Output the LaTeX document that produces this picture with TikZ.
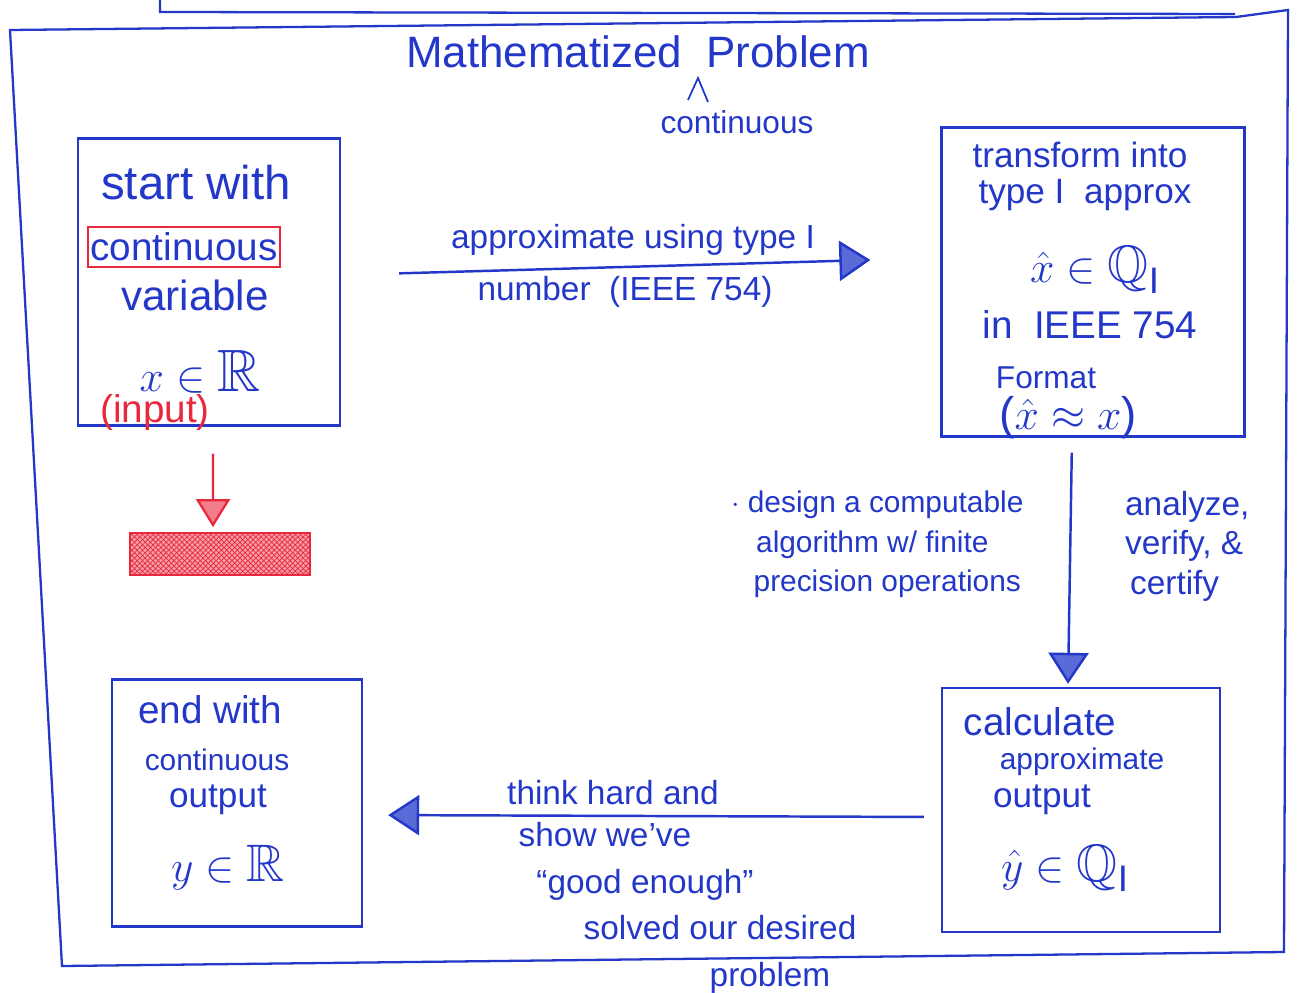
\documentclass[tikz,border=0pt]{standalone}
\usepackage{amssymb}
\usepackage{fontspec}
\setmainfont{Liberation Sans}
\usetikzlibrary{positioning,arrows.meta,patterns}
\definecolor{inkblue}{HTML}{2338C8}
\definecolor{inkred}{HTML}{E8283C}

\begin{document}
\begin{tikzpicture}[
  x=0.02cm, y=-0.02cm,
  line width=1.3pt,
  ink/.style={text=inkblue, inner sep=0pt},
  box/.style={draw=inkblue, line width=1.4pt, inner sep=0pt},
  txt/.style={ink, font=\fontsize{22}{26}\selectfont},
  lbl/.style={ink, font=\fontsize{19}{23}\selectfont},
  note/.style={ink, font=\fontsize{17}{22.5}\selectfont, align=left, anchor=north west},
  sym/.style={ink, font=\fontsize{30}{34}\selectfont},
  flow/.style={draw=inkblue, line width=1.4pt,
               -{Triangle[length=0.62cm, width=0.8cm, fill=inkblue!75]}},
]
  \useasboundingbox (0,0) rectangle (1311,993);

  % ---- frame -------------------------------------------------------------
  \draw[inkblue] (160,0) -- (160,12) -- (1235,14);
  \draw[inkblue] (10,30) -- (1236,17) -- (1288,10) -- (1284,952) -- (62,966) -- cycle;
  \node[ink, font=\fontsize{25}{30}\selectfont] (title) at (638,52) {Mathematized\ \ Problem};
  \draw[inkblue, line width=1pt] (688,100) -- (698,78) -- (708,102);
  \node[ink, font=\fontsize{18}{22}\selectfont] (cont) at (737,122) {continuous};

  % ---- boxes ---------------------------------------------------------------
  \node[box, minimum width=5.24cm, minimum height=5.74cm] (start) at (209,282) {};
  \node[box, minimum width=6.06cm, minimum height=6.18cm] (trans) at (1093,282) {};
  \node[box, minimum width=5.56cm, minimum height=4.88cm] (calc) at (1081,810) {};
  \node[box, minimum width=5cm, minimum height=4.94cm] (end) at (237,803) {};
  \node[draw=inkred, line width=1pt, preaction={fill=inkred!45}, pattern=crosshatch,
        pattern color=inkred, minimum width=3.6cm, minimum height=0.84cm,
        inner sep=0pt] (bar) at (220,554) {};

  % ---- start with ----------------------------------------------------------
  \node[txt, font=\fontsize{27}{30}\selectfont] (s1) at (196,183) {start with};
  \node[txt, draw=inkred, line width=1pt, minimum width=3.84cm,
        minimum height=0.8cm] (s2) at (184,247) {continuous};
  \node[txt, font=\fontsize{24}{28}\selectfont] (s3) at (195,295) {variable};
  \node[sym, font=\fontsize{34}{38}\selectfont] (s4) at (200,372) {$x\in\mathbb{R}$};
  \node[txt, text=inkred] (s5) at (155,413) {(input)};

  % ---- transform -----------------------------------------------------------
  \node[txt, font=\fontsize{20}{24}\selectfont] (t1) at (1080,155) {transform into};
  \node[txt, font=\fontsize{20}{24}\selectfont] (t2) at (1085,195) {type I\ \ approx};
  \node[sym] (t3) at (1095,270) {$\hat{x}\in\mathbb{Q}_{\mathrm{I}}$};
  \node[txt] (t4) at (1090,325) {in\ \ IEEE 754};
  \node[txt, font=\fontsize{18}{22}\selectfont] (t5) at (1046,378) {Format};
  \node[txt, font=\fontsize{26}{30}\selectfont] (t6) at (1068,418) {($\hat{x}\approx x$)};

  % ---- calculate -----------------------------------------------------------
  \node[txt] (c1) at (1040,722) {calculate};
  \node[txt, font=\fontsize{17}{20}\selectfont] (c2) at (1082,762) {approximate};
  \node[txt, font=\fontsize{20}{24}\selectfont] (c3) at (1042,800) {output};
  \node[sym] (c4) at (1065,868) {$\hat{y}\in\mathbb{Q}_{\mathrm{I}}$};

  % ---- end with ------------------------------------------------------------
  \node[txt] (e1) at (210,710) {end with};
  \node[txt, font=\fontsize{17}{20}\selectfont] (e2) at (217,760) {continuous};
  \node[txt, font=\fontsize{20}{24}\selectfont] (e3) at (218,800) {output};
  \node[sym] (e4) at (228,868) {$y\in\mathbb{R}$};

  % ---- arrows --------------------------------------------------------------
  \draw[inkred, line width=1.3pt, shorten <=0.54cm, shorten >=0.1cm,
        -{Triangle[length=0.56cm, width=0.68cm, fill=inkred!60]}]
    ([xshift=0.08cm]start.south) -- ([xshift=-0.14cm]bar.north);
  \draw[flow, shorten <=1.16cm, shorten >=1.4cm]
    ([yshift=0.14cm]start.east) -- ([yshift=0.48cm]trans.west);
  \node[lbl] (a1) at (633,240) {approximate using type I};
  \node[lbl] (a2) at (625,292) {number\ \ (IEEE 754)};

  \draw[flow, shorten <=0.3cm, shorten >=0.06cm]
    ([xshift=-0.42cm]trans.south) -- ([xshift=-0.26cm]calc.north);
  \node[note] (d1) at (730,490)
    {$\cdot$ design a computable\\
     \hspace*{0.5cm}algorithm w/ finite\\
     \hspace*{0.45cm}precision operations};
  \node[note, font=\fontsize{19}{22.5}\selectfont] (v1) at (1124,490)
    {analyze,\\verify, \&\\\hspace*{0.1cm}certify};

  \draw[flow, shorten <=0.34cm, shorten >=0.5cm]
    ([yshift=-0.14cm]calc.west) -- ([yshift=-0.24cm]end.east);
  \node[lbl] (h1) at (613,793) {think hard and};
  \node[lbl] (h2) at (605,835) {show we've};
  \node[lbl] (h3) at (645,885) {``good enough''};
  \node[lbl] (h4) at (720,928) {solved our desired};
  \node[lbl] (h5) at (770,978) {problem};
\end{tikzpicture}
\end{document}
